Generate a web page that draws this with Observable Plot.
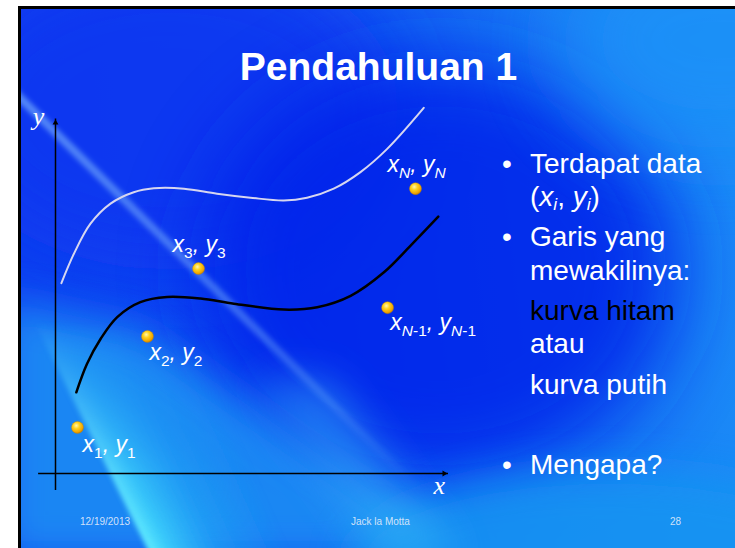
<!DOCTYPE html>
<html>
<head>
<meta charset="utf-8">
<script src="https://cdn.jsdelivr.net/npm/d3@7"></script>
<script src="https://cdn.jsdelivr.net/npm/@observablehq/plot@0.6"></script>
<style>
  html, body { margin: 0; padding: 0; background: #fff; }
  #page { position: relative; width: 735px; height: 548px; overflow: hidden; background: #fff; font-family: "Liberation Sans", Arial, sans-serif; }
  #bg { position: absolute; left: 0; top: 0; }
  .t { position: absolute; white-space: nowrap; color: #fff; line-height: 1; }
  #title { left: 0; width: 757px; text-align: center; top: 47px; font-size: 39px; font-weight: bold; }
  .b { font-size: 28px; left: 530px; }
  .bul { font-size: 28px; left: 502px; }
  .foot { font-size: 10px; top: 517px; color: rgba(225,235,250,0.92); }
  sub { font-size: 0.62em; vertical-align: -0.25em; line-height: 0; }
  #chart { position: absolute; left: 0; top: 0; }
</style>
</head>
<body>
<div id="page">
  <svg id="bg" width="735" height="548" xmlns="http://www.w3.org/2000/svg">
    <defs>
      <clipPath id="slideclip"><rect x="21" y="9" width="714" height="539"/></clipPath>
      <linearGradient id="base" gradientUnits="userSpaceOnUse" x1="21" y1="200" x2="735" y2="120">
        <stop offset="0" stop-color="#0e40f0"/>
        <stop offset="0.35" stop-color="#0f4cf1"/>
        <stop offset="0.7" stop-color="#1676f4"/>
        <stop offset="1" stop-color="#1b8cf7"/>
      </linearGradient>
      <filter id="blur40" filterUnits="userSpaceOnUse" x="-300" y="-300" width="1400" height="1200"><feGaussianBlur stdDeviation="40"/></filter>
      <filter id="blur20" filterUnits="userSpaceOnUse" x="-300" y="-300" width="1400" height="1200"><feGaussianBlur stdDeviation="20"/></filter>
      <filter id="blur3" filterUnits="userSpaceOnUse" x="-300" y="-300" width="1400" height="1200"><feGaussianBlur stdDeviation="2.5"/></filter>
      <linearGradient id="cyanG" gradientUnits="userSpaceOnUse" x1="120" y1="494" x2="240" y2="440">
        <stop offset="0" stop-color="#6af4ff" stop-opacity="1"/>
        <stop offset="0.15" stop-color="#42dcfc" stop-opacity="0.85"/>
        <stop offset="0.5" stop-color="#25b2f6" stop-opacity="0.5"/>
        <stop offset="1" stop-color="#1aa0f4" stop-opacity="0"/>
      </linearGradient>
      <linearGradient id="fadeUp" gradientUnits="userSpaceOnUse" x1="0" y1="548" x2="0" y2="320">
        <stop offset="0" stop-color="#fff" stop-opacity="1"/>
        <stop offset="0.3" stop-color="#fff" stop-opacity="0.8"/>
        <stop offset="1" stop-color="#fff" stop-opacity="0"/>
      </linearGradient>
      <mask id="fadeMask" maskUnits="userSpaceOnUse" x="0" y="0" width="735" height="548">
        <rect x="0" y="0" width="735" height="548" fill="url(#fadeUp)"/>
      </mask>
      <linearGradient id="streakG" gradientUnits="userSpaceOnUse" x1="21" y1="98" x2="420" y2="490">
        <stop offset="0" stop-color="#90ccff" stop-opacity="0.55"/>
        <stop offset="0.6" stop-color="#90ccff" stop-opacity="0.35"/>
        <stop offset="1" stop-color="#90ccff" stop-opacity="0"/>
      </linearGradient>
    </defs>
    <g clip-path="url(#slideclip)">
      <rect x="21" y="9" width="714" height="539" fill="url(#base)"/>
      <ellipse cx="170" cy="110" rx="230" ry="160" fill="#0a34f0" opacity="0.8" filter="url(#blur40)"/>
      <ellipse cx="440" cy="270" rx="240" ry="210" fill="#0320ea" opacity="0.85" filter="url(#blur40)"/>
      <ellipse cx="720" cy="40" rx="160" ry="110" fill="#1e92f8" opacity="0.8" filter="url(#blur40)"/>
      <polygon points="0,300 0,560 470,560 140,330" fill="#1a8ef4" opacity="0.9" filter="url(#blur20)"/>
      <ellipse cx="610" cy="560" rx="260" ry="90" fill="#1595f2" opacity="0.85" filter="url(#blur20)"/>
      <polygon points="255,380 330,380 460,560 385,560" fill="#3cc0f8" opacity="0.45" filter="url(#blur20)"/>
      <g mask="url(#fadeMask)">
        <polygon points="35,323 240,323 340,560 153,560" fill="url(#cyanG)" filter="url(#blur3)"/>
      </g>
      <line x1="10" y1="88" x2="430" y2="500" stroke="url(#streakG)" stroke-width="8" filter="url(#blur3)"/>
    </g>
    <line x1="19.5" y1="6" x2="19.5" y2="548" stroke="#000" stroke-width="3"/>
    <line x1="18" y1="7.5" x2="735" y2="7.5" stroke="#000" stroke-width="3"/>
  </svg>
  <div id="chart"></div>
  <div class="t" id="title">Pendahuluan 1</div>
  <div class="t bul" style="top:149.6px">•</div>
  <div class="t b" style="top:149.6px">Terdapat data</div>
  <div class="t b" style="top:183.3px">(<i>x<sub>i</sub></i>, <i>y<sub>i</sub></i>)</div>
  <div class="t bul" style="top:223px">•</div>
  <div class="t b" style="top:223px">Garis yang</div>
  <div class="t b" style="top:257px">mewakilinya:</div>
  <div class="t b" style="top:297px;color:#000">kurva hitam</div>
  <div class="t b" style="top:330.3px">atau</div>
  <div class="t b" style="top:371.3px">kurva putih</div>
  <div class="t bul" style="top:451.3px">•</div>
  <div class="t b" style="top:451.3px">Mengapa?</div>
  <div class="t foot" style="left:80px">12/19/2013</div>
  <div class="t foot" style="left:351px">Jack la Motta</div>
  <div class="t foot" style="left:670px">28</div>
</div>
<script>
// Black curve (kurva hitam)
const blackX = [0.53, 0.80, 1.15, 1.57, 2.16, 2.84, 3.69, 4.54, 5.81, 6.66, 7.51, 8.35, 9.03, 9.74];
const blackY = [2.06, 2.78, 3.42, 3.97, 4.35, 4.48, 4.44, 4.31, 4.16, 4.22, 4.51, 5.10, 5.78, 6.52];
// White curve (kurva putih)
const whiteX = [0.15, 0.47, 0.89, 1.40, 1.99, 2.50, 3.27, 4.11, 4.96, 5.81, 6.40, 7.08, 7.76, 8.44, 9.37];
const whiteY = [4.83, 5.58, 6.34, 6.85, 7.14, 7.24, 7.23, 7.10, 7.00, 6.93, 7.00, 7.23, 7.65, 8.24, 9.28];
// Data points (x_i, y_i)
const pointX = [0.56, 2.34, 3.64, 8.45, 9.16];
const pointY = [1.17, 3.48, 5.20, 4.21, 7.23];
// Point labels
const labelSub = ["1", "2", "3", "N-1", "N"];
const labelX = [0.69, 2.39, 2.98, 8.52, 8.45];
const labelY = [0.54, 2.87, 5.61, 3.63, 7.64];
// Axes
const xAxisSpan = [-0.43, 10];
const yAxisSpan = [-0.43, 9];
const arrowX = [9.89, 0];
const arrowY = [0, 8.9];
const arrowRotate = [90, 0];
const axisNames = ["x", "y"];
const axisNameX = [9.62, -0.58];
const axisNameY = [-0.53, 8.85];

const black = blackX.map((x, i) => ({x, y: blackY[i]}));
const white = whiteX.map((x, i) => ({x, y: whiteY[i]}));
const points = pointX.map((x, i) => ({x, y: pointY[i]}));
const labels = labelX.map((x, i) => ({x, y: labelY[i], sub: labelSub[i]}));
const arrows = arrowX.map((x, i) => ({x, y: arrowY[i], rotate: arrowRotate[i]}));
const names = axisNames.map((t, i) => ({t, x: axisNameX[i], y: axisNameY[i]}));

const plot = Plot.plot({
  width: 735,
  height: 548,
  x: {domain: [0, 10], range: [55, 448], axis: null},
  y: {domain: [0, 9], range: [473, 118.4], axis: null},
  style: {background: "transparent", overflow: "visible"},
  marks: [
    Plot.ruleY([0], {x1: xAxisSpan[0], x2: xAxisSpan[1], stroke: "#000", strokeWidth: 1.5}),
    Plot.ruleX([0], {y1: yAxisSpan[0], y2: yAxisSpan[1], stroke: "#000", strokeWidth: 1.5}),
    Plot.dot(arrows, {x: "x", y: "y", rotate: "rotate", symbol: "triangle2", r: 2.8, fill: "#000", stroke: "none"}),
    Plot.line(white, {x: "x", y: "y", curve: "catmull-rom", stroke: "#d6d6f0", strokeWidth: 2}),
    Plot.line(black, {x: "x", y: "y", curve: "catmull-rom", stroke: "#000", strokeWidth: 2.5}),
    Plot.dot(points, {x: "x", y: "y", r: 6, fill: "url(#gold)", stroke: "#c98a00", strokeWidth: 0.4}),
    Plot.text(labels, {x: "x", y: "y", text: d => `x${d.sub}, y${d.sub}`, textAnchor: "start", fill: "#fff",
      fontSize: 23, fontStyle: "italic", fontFamily: "Liberation Sans, Arial, sans-serif", className: "ptlabel"}),
    Plot.text(names, {x: "x", y: "y", text: "t", textAnchor: "start", fill: "#fff",
      fontSize: 26, fontStyle: "italic", fontFamily: "Liberation Serif, Times New Roman, serif", className: "axname"})
  ]
});

// gradient for gold dots
const svg = d3.select(plot);
const defs = svg.insert("defs", ":first-child");
const g = defs.append("radialGradient").attr("id", "gold").attr("cx", "40%").attr("cy", "35%").attr("r", "65%");
g.append("stop").attr("offset", "0%").attr("stop-color", "#fff7b0");
g.append("stop").attr("offset", "40%").attr("stop-color", "#ffd21c");
g.append("stop").attr("offset", "85%").attr("stop-color", "#f0a200");
g.append("stop").attr("offset", "100%").attr("stop-color", "#c98000");

// baseline-aligned text: drop Plot's em-based vertical anchor offsets
svg.selectAll("text").each(function() {
  for (const a of ["y", "dy"]) {
    const v = this.getAttribute(a);
    if (v && /em$/.test(v)) this.removeAttribute(a);
  }
});
svg.selectAll(".ptlabel text").each(function(_, i) {
  const sub = labels[i].sub;
  const el = d3.select(this);
  el.text(null);
  const addSub = (s) => {
    const parts = s.split(/(N)/).filter(p => p);
    parts.forEach((p, k) => {
      const ts = el.append("tspan").attr("font-size", 15.5).attr("font-style", p === "N" ? "italic" : "normal").text(p);
      if (k === 0) ts.attr("dy", 5.5);
    });
  };
  el.append("tspan").text("x");
  addSub(sub);
  el.append("tspan").attr("dy", -5.5).text(",\u00a0y");
  addSub(sub);
});

document.getElementById("chart").appendChild(plot);
</script>
</body>
</html>
